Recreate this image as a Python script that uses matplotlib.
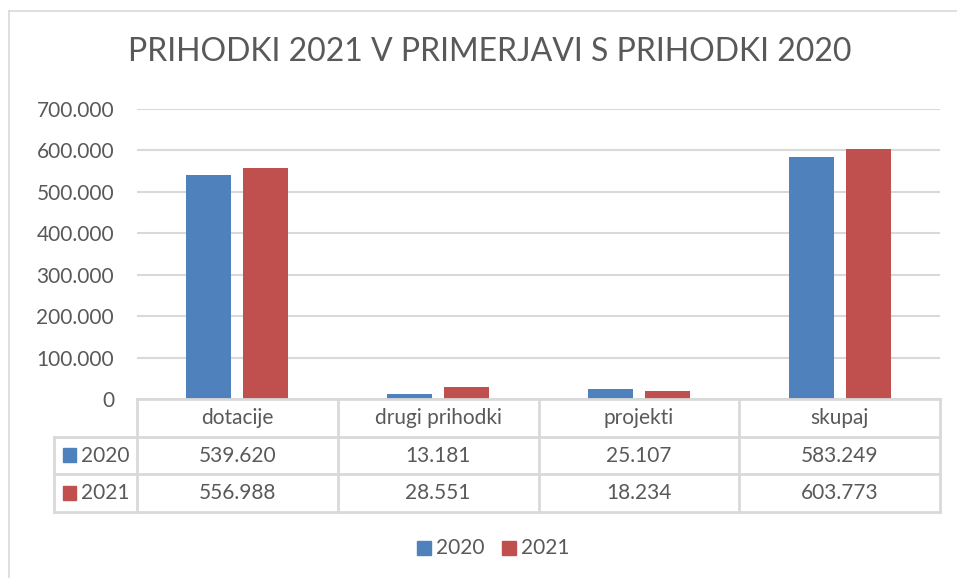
import matplotlib
matplotlib.use("Agg")
import matplotlib.pyplot as plt
from matplotlib.patches import Rectangle
from matplotlib.lines import Line2D

plt.rcParams['font.family'] = ['Lato', 'DejaVu Sans']

# ---- data ----
title = "PRIHODKI 2021 V PRIMERJAVI S PRIHODKI 2020"
categories = ["dotacije", "drugi prihodki", "projekti", "skupaj"]
series_names = ["2020", "2021"]
values_2020 = [539620, 13181, 25107, 583249]
values_2021 = [556988, 28551, 18234, 603773]
y_ticks = [0, 100000, 200000, 300000, 400000, 500000, 600000, 700000]

colors = ["#4F81BD", "#C0504D"]
text_color = "#595959"
grid_color = "#D9D9D9"
FS = 15

W, H = 957, 578
fig = plt.figure(figsize=(W / 100, H / 100), dpi=100)

def fx(px):
    return px / W

def fy(py):
    return 1 - py / H

# chart frame (cropped screenshot: top & left border)
fig.add_artist(Line2D([fx(9), fx(9)], [fy(578), fy(11)], color=grid_color, lw=1.2))
fig.add_artist(Line2D([fx(9), fx(957)], [fy(11), fy(11)], color=grid_color, lw=1.2))

# ---- main axes ----
pl, pr, pt, pb = 137, 940, 109, 399
ax = fig.add_axes([fx(pl), fy(pb), fx(pr) - fx(pl), fy(pt) - fy(pb)])
ax.set_xlim(0, len(categories))
ax.set_ylim(0, 700000)
for s in ax.spines.values():
    s.set_visible(False)
ax.set_yticks(y_ticks)
def fmt(v):
    return "0" if v == 0 else f"{v:,.0f}".replace(",", ".")
ax.set_yticklabels([fmt(v) for v in y_ticks], color=text_color, fontsize=FS)
ax.tick_params(axis='y', length=0, pad=16.5)
ax.set_xticks([])
ax.yaxis.grid(True, color=grid_color, lw=1.5)
ax.set_axisbelow(True)

bw = 45 / 200.75
gap = 12 / 200.75
xs = [i + 0.5 for i in range(len(categories))]
ax.bar([x - gap / 2 - bw / 2 for x in xs], values_2020, width=bw, color=colors[0], zorder=3)
ax.bar([x + gap / 2 + bw / 2 for x in xs], values_2021, width=bw, color=colors[1], zorder=3)

# ---- data table ----
tl, tt, tb = 54, 399, 512
hdr = (pl - tl) / ((pr - pl) / len(categories))
tax = fig.add_axes([fx(tl), fy(tb), fx(pr) - fx(tl), fy(tt) - fy(tb)])
tax.set_xlim(-hdr, len(categories))
tax.set_ylim(0, 3)
tax.axis('off')
lc = dict(color=grid_color, lw=2, clip_on=False, solid_capstyle='projecting')
tax.plot([0, len(categories)], [3, 3], **lc)
for yv in [2, 1, 0]:
    tax.plot([-hdr, len(categories)], [yv, yv], **lc)
for xv in range(len(categories) + 1):
    tax.plot([xv, xv], [0, 3], **lc)
tax.plot([-hdr, -hdr], [0, 2], **lc)

for i, c in enumerate(categories):
    tax.text(i + 0.5, 2.5, c, ha='center', va='center', fontsize=FS, color=text_color)
    tax.text(i + 0.5, 1.5, fmt(values_2020[i]), ha='center', va='center', fontsize=FS, color=text_color)
    tax.text(i + 0.5, 0.5, fmt(values_2021[i]), ha='center', va='center', fontsize=FS, color=text_color)

# legend keys in table header
for row, (name, col) in enumerate(zip(series_names, colors)):
    yc = 1.5 - row
    tax.add_patch(Rectangle((-hdr + 9 / 200.75, yc - 0.17), 13 / 200.75, 0.36,
                            color=col, clip_on=False))
    tax.text(-hdr + 27 / 200.75, yc, name, ha='left', va='center', fontsize=FS, color=text_color)

# ---- bottom legend ----
leg_y = 548
for (x0, name, col) in [(417, series_names[0], colors[0]), (502, series_names[1], colors[1])]:
    fig.add_artist(Rectangle((fx(x0), fy(leg_y + 7)), fx(14), 14 / H, color=col))
    fig.text(fx(x0 + 19), fy(leg_y), name, ha='left', va='center', fontsize=FS, color=text_color)

# ---- title ----
fig.text(fx(490), fy(52), title, ha='center', va='center', fontsize=23, color=text_color)

fig.savefig("out.png", dpi=100)
